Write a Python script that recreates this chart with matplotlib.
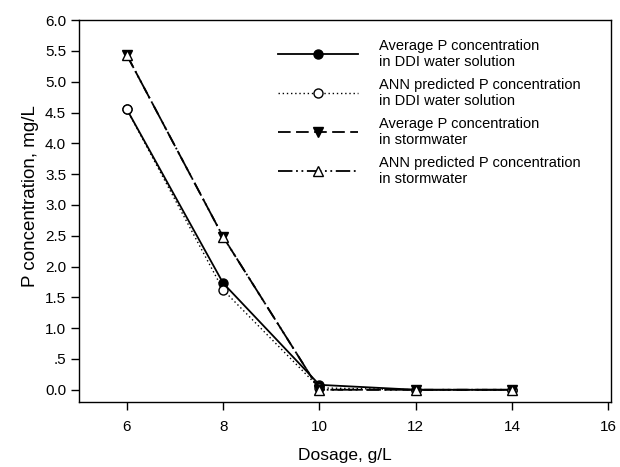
import matplotlib.pyplot as plt
import numpy as np

plt.rcParams['font.family'] = ['Liberation Sans', 'DejaVu Sans']

dosage = [6, 8, 10, 12, 14]
ddi_avg = [4.55, 1.73, 0.08, 0.0, 0.0]
ddi_ann = [4.55, 1.62, 0.03, 0.0, 0.0]
storm_avg = [5.43, 2.48, 0.0, 0.0, 0.0]
storm_ann = [5.43, 2.48, 0.0, 0.0, 0.0]

yticks = [0.0, 0.5, 1.0, 1.5, 2.0, 2.5, 3.0, 3.5, 4.0, 4.5, 5.0, 5.5, 6.0]
ytick_labels = ['0.0', '.5', '1.0', '1.5', '2.0', '2.5', '3.0', '3.5', '4.0', '4.5', '5.0', '5.5', '6.0']
xticks = [6, 8, 10, 12, 14, 16]

fig = plt.figure(figsize=(6.2, 4.67), dpi=100)
ax = fig.add_axes([0.127, 0.139, 0.858, 0.818])

ms = 6.5
ax.plot(dosage, ddi_avg, color='black', lw=1.3, marker='o', ms=ms,
        mfc='black', mec='black',
        label='Average P concentration\nin DDI water solution')
ax.plot(dosage, ddi_ann, color='black', lw=1.0, ls=(0, (1, 2)), marker='o', ms=ms,
        mfc='white', mec='black',
        label='ANN predicted P concentration\nin DDI water solution')
ax.plot(dosage, storm_avg, color='black', lw=1.3, ls=(0, (7, 3)), marker='v', ms=ms,
        mfc='black', mec='black',
        label='Average P concentration\nin stormwater')
ax.plot(dosage, storm_ann, color='black', lw=1.3, ls=(0, (8, 2, 1, 2, 1, 2)), marker='^', ms=ms,
        mfc='white', mec='black',
        label='ANN predicted P concentration\nin stormwater')

ax.set_xlim(5, 16.05)
ax.set_ylim(-0.2, 6.0)
ax.set_xticks(xticks)
ax.set_yticks(yticks)
ax.set_yticklabels(ytick_labels)
ax.tick_params(direction='out', length=6, width=1)
ax.tick_params(axis='x', labelsize=11, pad=7)
ax.tick_params(axis='y', labelsize=11, pad=3)
for s in ax.spines.values():
    s.set_linewidth(1.0)

ax.set_xlabel('Dosage, g/L', fontsize=12.5, labelpad=10)
ax.set_ylabel('P concentration, mg/L', fontsize=13.5)
ax.yaxis.set_label_coords(-0.075, 0.54)

ax.legend(loc='upper left', bbox_to_anchor=(0.35, 0.985), frameon=False,
          fontsize=10.5, handlelength=5.5, handletextpad=1.4, labelspacing=0.6)

plt.savefig('out.png')
